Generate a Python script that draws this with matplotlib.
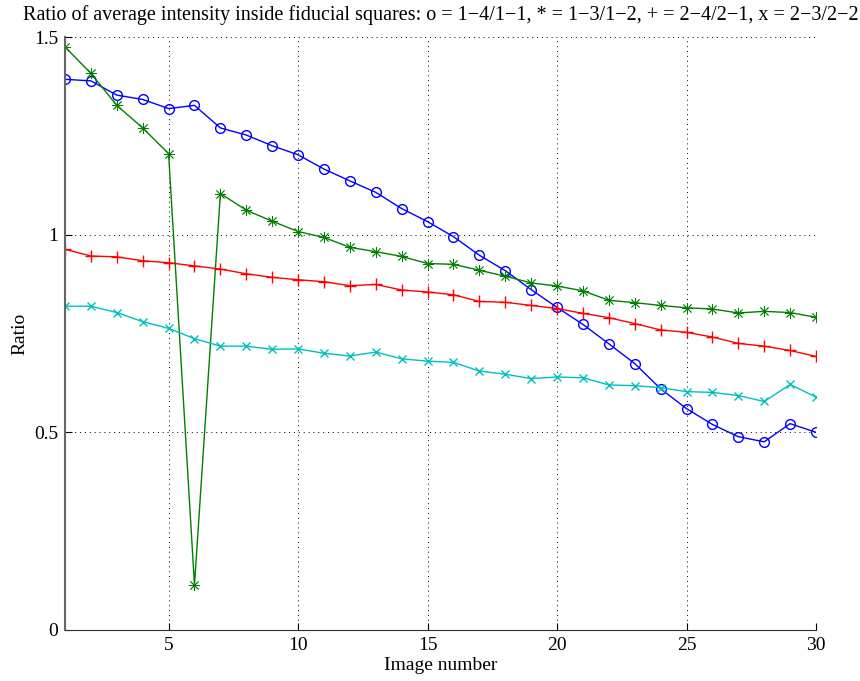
import matplotlib
matplotlib.use('Agg')
import matplotlib.pyplot as plt
import numpy as np

# image numbers 1..30
images = list(range(1, 31))

# o = 1-4/1-1
ratio_14_11 = [1.393, 1.389, 1.353, 1.342, 1.319, 1.327, 1.270, 1.252, 1.225, 1.202,
               1.166, 1.136, 1.107, 1.066, 1.033, 0.995, 0.948, 0.909, 0.861, 0.816,
               0.773, 0.724, 0.674, 0.610, 0.560, 0.520, 0.489, 0.476, 0.522, 0.500]
# * = 1-3/1-2
ratio_13_12 = [1.475, 1.408, 1.327, 1.270, 1.205, 0.114, 1.104, 1.062, 1.034, 1.008,
               0.993, 0.968, 0.957, 0.945, 0.927, 0.925, 0.910, 0.895, 0.878, 0.870,
               0.858, 0.834, 0.828, 0.821, 0.815, 0.812, 0.802, 0.806, 0.803, 0.791]
# + = 2-4/2-1
ratio_24_21 = [0.963, 0.946, 0.944, 0.934, 0.929, 0.921, 0.913, 0.901, 0.892, 0.886,
               0.881, 0.871, 0.874, 0.860, 0.855, 0.848, 0.831, 0.829, 0.821, 0.813,
               0.801, 0.790, 0.775, 0.759, 0.753, 0.741, 0.725, 0.718, 0.707, 0.692]
# x = 2-3/2-2
ratio_23_22 = [0.819, 0.819, 0.803, 0.780, 0.763, 0.737, 0.718, 0.718, 0.710, 0.711,
               0.700, 0.693, 0.703, 0.686, 0.680, 0.677, 0.655, 0.647, 0.636, 0.640,
               0.638, 0.620, 0.618, 0.613, 0.603, 0.601, 0.593, 0.578, 0.621, 0.589]

plt.rcParams['font.family'] = ['Liberation Serif', 'DejaVu Serif']

fig = plt.figure(figsize=(8.6, 6.81), dpi=100)
ax = fig.add_axes([65 / 860, 1 - 630 / 681, (816 - 65) / 860, (630 - 37) / 681])

# MATLAB-style asterisk: 8 spokes
asterisk = (8, 2, 0)

ax.plot(images, ratio_14_11, '-o', color='#0000ff', lw=1, markersize=7,
        markerfacecolor='none', markeredgewidth=1)
ax.plot(images, ratio_13_12, '-', marker=asterisk, color='#008000', lw=1,
        markersize=8, markeredgewidth=0.6)
ax.plot(images, ratio_24_21, '-+', color='#ff0000', lw=1, markersize=8,
        markeredgewidth=1)
ax.plot(images, ratio_23_22, '-x', color='#00bfbf', lw=1, markersize=6,
        markeredgewidth=1)

ax.set_xlim(1, 30)
ax.set_ylim(0, 1.5)
ax.set_xticks([5, 10, 15, 20, 25, 30])
ax.set_yticks([0, 0.5, 1, 1.5])
ax.set_yticklabels(['0', '0.5', '1', '1.5'])
ax.grid(True, color='black', linestyle=(0, (1, 4)), linewidth=0.7)
ax.tick_params(direction='in', length=5, labelsize=14, width=0.8, pad=5)
ax.spines['top'].set_visible(False)
ax.spines['right'].set_visible(False)
ax.spines['left'].set_color('#666666')
ax.spines['left'].set_linewidth(1.5)
ax.spines['bottom'].set_color('#333333')

ax.set_xlabel('Image number', fontsize=14, labelpad=2)
ax.set_ylabel('Ratio', fontsize=14, labelpad=4)
ax.set_title('Ratio of average intensity inside fiducial squares: o = 1\u22124/1\u22121, '
             '* = 1\u22123/1\u22122, + = 2\u22124/2\u22121, x = 2\u22123/2\u22122',
             fontsize=14.5, pad=12)

fig.savefig('out.png', dpi=100)
